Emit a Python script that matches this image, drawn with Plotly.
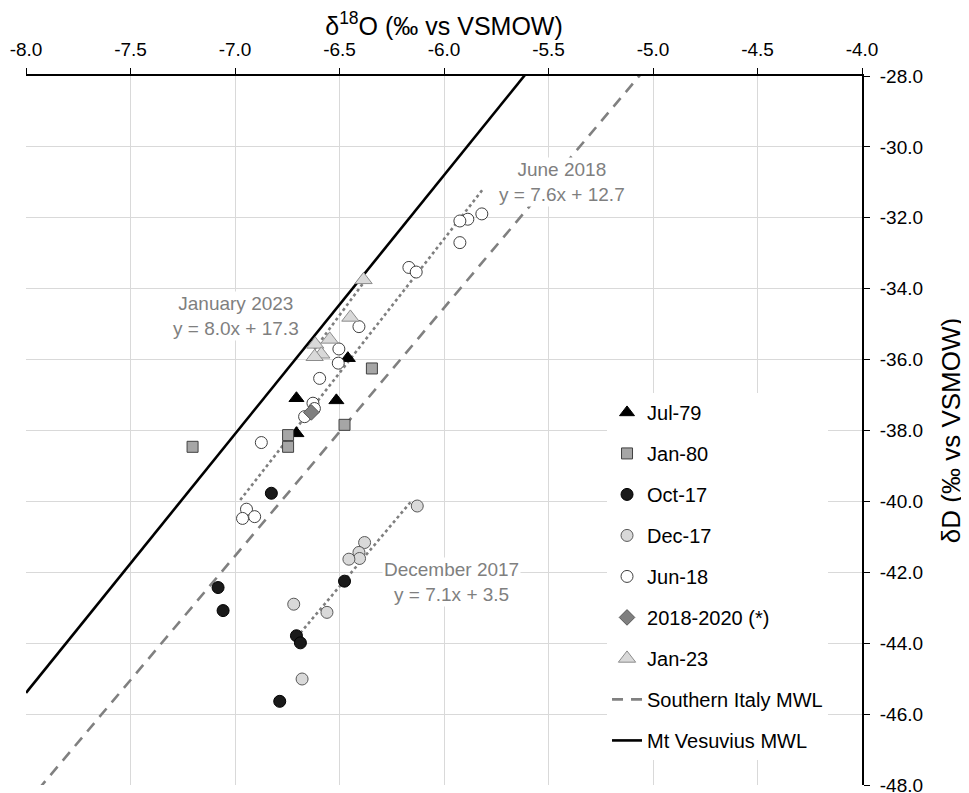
import plotly.graph_objects as go

# ---------------- data ----------------
jul79_x = [-6.46, -6.706, -6.515, -6.706]
jul79_y = [-35.96, -37.09, -37.15, -38.08]

jan80_x = [-7.203, -6.746, -6.746, -6.476, -6.345]
jan80_y = [-38.46, -38.13, -38.46, -37.84, -36.25]

oct17_x = [-6.826, -7.081, -7.057, -6.476, -6.706, -6.687, -6.786]
oct17_y = [-39.77, -42.43, -43.08, -42.25, -43.79, -43.99, -45.64]

dec17_x = [-6.128, -6.38, -6.407, -6.404, -6.455, -6.719, -6.56, -6.679]
dec17_y = [-40.13, -41.16, -41.44, -41.61, -41.63, -42.90, -43.13, -45.01]

jun18_x = [-5.819, -5.886, -5.924, -5.924, -6.168, -6.133, -6.407, -6.503, -6.506,
           -6.595, -6.627, -6.667, -6.874, -6.945, -6.964, -6.906, -6.62]
jun18_y = [-31.89, -32.04, -32.09, -32.70, -33.40, -33.53, -35.07, -35.70, -36.10,
           -36.53, -37.23, -37.61, -38.34, -40.22, -40.48, -40.43, -37.38]

d1820_x = [-6.635]
d1820_y = [-37.49]

jan23_x = [-6.385, -6.448, -6.547, -6.616, -6.587, -6.619]
jan23_y = [-33.75, -34.81, -35.43, -35.57, -35.85, -35.92]

# meteoric water lines (slope, intercept) drawn across the axis range
mwl_names = ["Southern Italy MWL", "Mt Vesuvius MWL"]
mwl_slope = [7.0, 7.3]
mwl_intercept = [7.46, 13.0]

# axes / tick labels
x_tickvals = [-8.0, -7.5, -7.0, -6.5, -6.0, -5.5, -5.0, -4.5, -4.0]
x_ticktext = ["-8.0", "-7.5", "-7.0", "-6.5", "-6.0", "-5.5", "-5.0", "-4.5", "-4.0"]
y_tickvals = [-28.0, -30.0, -32.0, -34.0, -36.0, -38.0, -40.0, -42.0, -44.0, -46.0, -48.0]
y_ticktext = ["-28.0", "-30.0", "-32.0", "-34.0", "-36.0", "-38.0", "-40.0", "-42.0",
              "-44.0", "-46.0", "-48.0"]
axis_x_range = [-8.0, -4.0]
axis_y_range = [-48.0, -28.0]

# regression (trend) lines
trend_labels = ["June 2018<br>y = 7.6x + 12.7",
                "January 2023<br>y = 8.0x + 17.3",
                "December 2017<br>y = 7.1x + 3.5"]
trend_slope = [7.55, 8.0, 7.0]
trend_intercept = [12.7, 17.25, 3.1]
trend_xmin = [-6.975, -6.62, -6.706]
trend_xmax = [-5.815, -6.385, -6.16]
label_x = [-5.435, -6.996, -5.964]
label_y = [-31.0, -34.77, -42.27]

# ---------------- figure ----------------
FONT = "Arial, Liberation Sans, sans-serif"
fig = go.Figure()

# MWLs
mwl_styles = [dict(color="#808080", width=2.6, dash="11px,8px"),
              dict(color="#000000", width=2.6)]
for name, s, b, st, rank in zip(mwl_names, mwl_slope, mwl_intercept, mwl_styles, [8, 9]):
    xs = axis_x_range
    ys = [s * x + b for x in xs]
    fig.add_trace(go.Scatter(x=xs, y=ys, mode="lines", name=name, line=st,
                             legendrank=rank, legendgroup=name))

# trend lines
for s, b, x0, x1 in zip(trend_slope, trend_intercept, trend_xmin, trend_xmax):
    fig.add_trace(go.Scatter(x=[x0, x1], y=[s * x0 + b, s * x1 + b], mode="lines",
                             line=dict(color="#7f7f7f", width=2.6, dash="dot"),
                             showlegend=False, hoverinfo="skip"))

series = [
    ("Jul-79", jul79_x, jul79_y, "triangle-up", 13, "#000000", "#000000", 1),
    ("Jan-80", jan80_x, jan80_y, "square", 11, "#a6a6a6", "#404040", 2),
    ("Oct-17", oct17_x, oct17_y, "circle", 12, "#1a1a1a", "#000000", 3),
    ("Dec-17", dec17_x, dec17_y, "circle", 12, "#d9d9d9", "#595959", 4),
    ("Jun-18", jun18_x, jun18_y, "circle", 12, "#ffffff", "#404040", 5),
    ("2018-2020 (*)", d1820_x, d1820_y, "diamond", 12, "#7f7f7f", "#595959", 6),
    ("Jan-23", jan23_x, jan23_y, "triangle-up", 15, "#d9d9d9", "#8c8c8c", 7),
]
for name, xs, ys, sym, size, fill, edge, rank in series:
    fig.add_trace(go.Scatter(x=xs, y=ys, mode="markers", name=name,
                             marker=dict(symbol=sym, size=size, color=fill,
                                         line=dict(color=edge, width=1)),
                             legendrank=rank, legendgroup=name))

for txt, x, y in zip(trend_labels, label_x, label_y):
    fig.add_annotation(x=x, y=y, text=txt, showarrow=False, xref="x", yref="y",
                       font=dict(family=FONT, size=19, color="#7f7f7f"),
                       bgcolor="#ffffff", align="center")

fig.update_layout(
    width=969, height=793,
    margin=dict(l=18, r=115, t=68, b=16),
    paper_bgcolor="#ffffff", plot_bgcolor="#ffffff",
    font=dict(family=FONT, size=19, color="#000000"),
    showlegend=True,
    legend=dict(x=0.695, xanchor="left", y=0.553, yanchor="top",
                bgcolor="#ffffff", font=dict(family=FONT, size=20, color="#000000"),
                tracegroupgap=12, itemsizing="trace"),
    xaxis=dict(side="top", range=axis_x_range, tickvals=x_tickvals, ticktext=x_ticktext,
               showgrid=True, gridcolor="#d9d9d9", gridwidth=1.3,
               showline=True, linecolor="#000000", linewidth=2,
               ticks="outside", ticklen=6, tickcolor="#000000", tickwidth=1.3,
               ticklabelstandoff=4, automargin=False,
               zeroline=False, tickfont=dict(family=FONT, size=19, color="#000000"),
               title=dict(text="δ<sup>18</sup>O (‰ vs VSMOW)",
                          font=dict(family=FONT, size=25, color="#000000"), standoff=11)),
    yaxis=dict(side="right", range=axis_y_range, tickvals=y_tickvals, ticktext=y_ticktext,
               showgrid=True, gridcolor="#d9d9d9", gridwidth=1.3,
               showline=True, linecolor="#000000", linewidth=2,
               ticks="outside", ticklen=6, tickcolor="#000000", tickwidth=1.3,
               ticklabelstandoff=6, automargin=False,
               zeroline=False, tickfont=dict(family=FONT, size=19, color="#000000"),
               title=dict(text="δD (‰ vs VSMOW)",
                          font=dict(family=FONT, size=26, color="#000000"), standoff=20)),
)

fig.write_html("out.html")
